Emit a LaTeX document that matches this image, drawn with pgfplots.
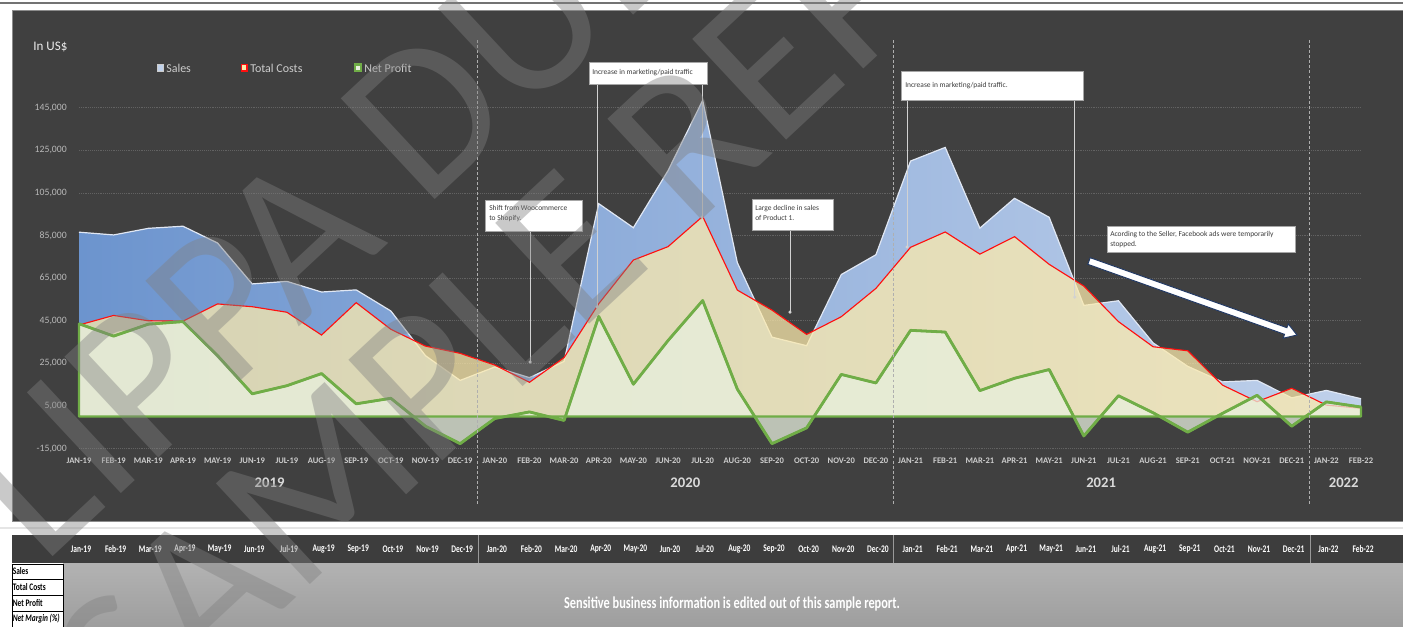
\documentclass[border=0pt]{standalone}
\usepackage{pgfplots}
\usepackage{pgfplotstable}
\pgfplotsset{compat=1.18}
\usepackage{fontspec}
\setmainfont{Carlito}
\newfontfamily\condfont[FakeStretch=0.74]{Carlito}
\newfontfamily\wmfont{Carlito}

\definecolor{panel}{RGB}{64,64,64}
\definecolor{salesL}{RGB}{108,148,206}
\definecolor{salesR}{RGB}{192,209,235}
\definecolor{salesLine}{RGB}{224,231,243}
\definecolor{costFill}{RGB}{252,234,172}
\definecolor{costLine}{RGB}{255,16,16}
\definecolor{profitFill}{RGB}{232,240,222}
\definecolor{profitLine}{RGB}{112,173,71}
\definecolor{ticktext}{RGB}{185,185,185}
\definecolor{labtext}{RGB}{205,205,205}
\definecolor{gridc}{RGB}{98,98,98}
\definecolor{sepc}{RGB}{175,175,175}
\definecolor{notetext}{RGB}{60,60,60}
\definecolor{arrowblue}{RGB}{32,56,100}
\definecolor{leader}{RGB}{210,210,210}

% monthly figures, Jan-19 .. Feb-22 (index 0..37)
\pgfplotstableread{
idx sales  costs profit
0   86600  43000  43600
1   85300  47500  37800
2   88400  45000  43400
3   89400  44800  44600
4   81500  52900  28600
5   62300  51600  10700
6   63500  49000  14500
7   58500  38300  20200
8   59500  53500   6000
9   49600  41000   8600
10  28600  33100  -4500
11  17000  29700 -12700
12  23300  24200   -900
13  18300  16100   2200
14  25900  27700  -1800
15 100000  53000  47000
16  88700  73500  15200
17 115500  79800  35700
18 148500  94000  54500
19  72300  59400  12900
20  37300  50000 -12700
21  33300  38600  -5300
22  66700  46900  19800
23  76000  60200  15800
24 120000  79500  40500
25 126400  86700  39700
26  88500  76300  12200
27 102500  84500  18000
28  93600  71500  22100
29  52200  61300  -9100
30  54400  44600   9800
31  34600  32800   1800
32  23600  30900  -7300
33  16300  14800   1500
34  17000   7000  10000
35   8800  13300  -4500
36  12300   5400   6900
37   8400   3900   4500
}\datatable

\tikzset{px/.style={x=0.75pt,y=-0.75pt}}

\begin{document}
\begin{tikzpicture}

% page background, panel and data table
\begin{scope}[px]
  \fill[white] (0,0) rectangle (1403,626);
  \draw[line width=1.8pt, black!55] (0,3) -- (1403,3);
  \fill[panel] (12,10) rectangle (1403,521);
  \draw[black!45, line width=0.6pt] (12,10) -- (12,521) -- (1403,521);
  \draw[black!45, line width=0.6pt] (12,10) -- (1403,10);
  \draw[black!10, line width=0.8pt] (0,528) -- (1403,528);

  % table header
  \fill[black!76] (12,535) rectangle (1403,563);
  \shade[top color=black!30, bottom color=black!38] (63,563) rectangle (1403,626);
  \foreach \sx in {478,893,1310} \draw[black!40, line width=0.5pt] (\sx,535) -- (\sx,563);
  \foreach \lab [count=\i from 0] in {Jan-19,Feb-19,Mar-19,Apr-19,May-19,Jun-19,Jul-19,Aug-19,Sep-19,Oct-19,Nov-19,Dec-19,Jan-20,Feb-20,Mar-20,Apr-20,May-20,Jun-20,Jul-20,Aug-20,Sep-20,Oct-20,Nov-20,Dec-20,Jan-21,Feb-21,Mar-21,Apr-21,May-21,Jun-21,Jul-21,Aug-21,Sep-21,Oct-21,Nov-21,Dec-21,Jan-22,Feb-22}
    \node[text=white, font=\condfont\bfseries\fontsize{7.6}{8}\selectfont, inner sep=0pt] at ({81+\i*34.65},549) {\lab};
  \foreach \ya/\yb/\lab in {564/579/Sales,579/595/Total Costs,595/611/Net Profit}{
    \draw[fill=white, draw=black, line width=0.4pt] (12,\ya) rectangle (63,\yb);
    \node[anchor=west, inner sep=0pt, font=\condfont\bfseries\fontsize{7.5}{8}\selectfont] at (12.5,{(\ya+\yb)/2}) {\lab};
  }
  \draw[fill=white, draw=black, line width=0.4pt] (12,611) rectangle (63,627);
  \node[anchor=west, inner sep=0pt, font=\condfont\bfseries\itshape\fontsize{7.5}{8}\selectfont] at (12.5,619) {Net Margin (\%)};
  \node[text=white, font=\condfont\bfseries\fontsize{12.5}{14}\selectfont, inner sep=0pt] at (732,604) {Sensitive business information is edited out of this sample report.};

  % title and legend
  \node[anchor=west, inner sep=0pt, text=white!92!black, font=\fontsize{9.8}{11}\selectfont] at (33,47) {In US\$};
  \draw[fill=salesR, draw=white!80!black, line width=0.3pt] (157,64.5) rectangle (163.5,71);
  \node[anchor=west, inner sep=0pt, text=labtext, font=\fontsize{9}{10}\selectfont] at (166,68) {Sales};
  \draw[fill=costFill, draw=costLine, line width=0.8pt] (241.5,64.5) rectangle (247,71);
  \node[anchor=west, inner sep=0pt, text=labtext, font=\fontsize{9}{10}\selectfont] at (250,68) {Total Costs};
  \draw[fill=profitFill, draw=profitLine, line width=1.6pt] (355,64.5) rectangle (361,71);
  \node[anchor=west, inner sep=0pt, text=labtext, font=\fontsize{9}{10}\selectfont] at (364,68) {Net Profit};
\end{scope}

\begin{axis}[
  at={(59.25pt,-336.4pt)}, anchor=south west,
  scale only axis, width=961.5pt, height=287.5pt,
  xmin=0, xmax=37, ymin=-15000, ymax=165000,
  clip=false,
  scaled y ticks=false,
  axis line style={draw=none},
  tick style={draw=none},
  ymajorgrids,
  grid style={gridc, densely dotted, line width=0.5pt},
  ytick={-15000,5000,25000,45000,65000,85000,105000,125000,145000},
  yticklabels={{-15,000},{5,000},{25,000},{45,000},{65,000},{85,000},{105,000},{125,000},{145,000}},
  yticklabel style={anchor=east, inner sep=0pt, xshift=-9pt, text=ticktext, font=\fontsize{7.3}{8}\selectfont},
  xtick={0,...,37},
  xticklabels={JAN-19,FEB-19,MAR-19,APR-19,MAY-19,JUN-19,JUL-19,AUG-19,SEP-19,OCT-19,NOV-19,DEC-19,JAN-20,FEB-20,MAR-20,APR-20,MAY-20,JUN-20,JUL-20,AUG-20,SEP-20,OCT-20,NOV-20,DEC-20,JAN-21,FEB-21,MAR-21,APR-21,MAY-21,JUN-21,JUL-21,AUG-21,SEP-21,OCT-21,NOV-21,DEC-21,JAN-22,FEB-22},
  xticklabel style={anchor=center, inner sep=0pt, yshift=-9.4pt, text=labtext, font=\bfseries\fontsize{6.4}{7}\selectfont},
]
  % Sales area (shaded left to right)
  \addplot[draw=none, left color=salesL, right color=salesR] table[x=idx, y=sales] {\datatable} \closedcycle;
  \addplot[salesLine, line width=0.9pt] table[x=idx, y=sales] {\datatable};
  % Total costs area
  \addplot[draw=none, fill=costFill, fill opacity=0.74] table[x=idx, y=costs] {\datatable} \closedcycle;
  \addplot[costLine, line width=0.85pt] table[x=idx, y=costs] {\datatable};
  % Net profit area, outlined all round
  \addplot[fill=profitFill, fill opacity=0.74, draw=profitLine, line width=1.7pt, line join=round] table[x=idx, y=profit] {\datatable} \closedcycle;
  \addplot[profitLine, line width=2.1pt, line join=round] table[x=idx, y=profit] {\datatable};

  % year separators and year labels
  \draw[sepc, line width=0.6pt, dash pattern=on 2.2pt off 1.6pt] (axis cs:11.5,176800) -- (axis cs:11.5,-41500);
  \draw[sepc, line width=0.6pt, dash pattern=on 2.2pt off 1.6pt] (axis cs:23.5,176800) -- (axis cs:23.5,-41500);
  \draw[sepc, line width=0.6pt, dash pattern=on 2.2pt off 1.6pt] (axis cs:35.5,176800) -- (axis cs:35.5,-41500);
  \node[text=white!85!black, font=\bfseries\fontsize{11}{12}\selectfont] at (axis cs:5.5,-31200) {2019};
  \node[text=white!85!black, font=\bfseries\fontsize{11}{12}\selectfont] at (axis cs:17.5,-31200) {2020};
  \node[text=white!85!black, font=\bfseries\fontsize{11}{12}\selectfont] at (axis cs:29.5,-31200) {2021};
  \node[text=white!85!black, font=\bfseries\fontsize{11}{12}\selectfont] at (axis cs:36.5,-31200) {2022};

  % callout leader lines
  \draw[leader, line width=0.6pt] (axis cs:13.02,87100) -- (axis cs:13.02,25600);
  \fill[leader] (axis cs:13.02,25600) circle (1.3pt);
  \draw[leader, line width=0.6pt] (axis cs:14.95,156600) -- (axis cs:14.95,51500);
  \fill[leader] (axis cs:14.95,51500) circle (1.3pt);
  \draw[leader, line width=0.6pt] (axis cs:17.98,156600) -- (axis cs:17.98,93700);
  \fill[leader] (axis cs:17.98,93700) circle (1.3pt);
  \draw[leader, line width=0.6pt] (axis cs:20.52,87600) -- (axis cs:20.52,49100);
  \fill[leader] (axis cs:20.52,49100) circle (1.3pt);
  \draw[leader, line width=0.6pt] (axis cs:23.9,148600) -- (axis cs:23.9,79600);
  \fill[leader] (axis cs:23.9,79600) circle (1.3pt);
  \draw[leader, line width=0.6pt] (axis cs:28.74,148600) -- (axis cs:28.74,56100);
  \fill[leader] (axis cs:28.74,56100) circle (1.3pt);
\end{axis}

% callout boxes and trend arrow
\begin{scope}[px]
  \tikzset{note/.style={anchor=north west, inner sep=0pt, align=left, text=notetext, font=\fontsize{5.6}{7.4}\selectfont}}
  \draw[fill=white, draw=black!35, line width=0.4pt] (485,200) rectangle (582,231);
  \node[note] at (489,205) {Shift from Woocommerce\\to Shopify.};
  \draw[fill=white, draw=black!35, line width=0.4pt] (589,62) rectangle (707,84);
  \node[note] at (592,69) {Increase in marketing/paid traffic};
  \draw[fill=white, draw=black!35, line width=0.4pt] (752,199) rectangle (833,230);
  \node[note] at (755,205) {Large decline in sales\\of Product 1.};
  \draw[fill=white, draw=black!35, line width=0.4pt] (901,71) rectangle (1083,100);
  \node[note] at (905,82) {Increase in marketing/paid traffic.};
  \draw[fill=white, draw=black!35, line width=0.4pt] (1107,226) rectangle (1295,252);
  \node[note] at (1110,231) {Acording to the Seller, Facebook ads were temporarily\\stopped.};

  \draw[fill=white, draw=arrowblue, line width=0.7pt, line join=miter]
    (1087.8,264.3) -- (1284.5,334.3) -- (1283.2,338.2) -- (1297,335) -- (1288.2,323.9) -- (1286.9,327.7) -- (1090.2,257.7) -- cycle;
\end{scope}

% watermark, clipped to the page
\begin{scope}
  \clip (0,0) rectangle (1052.25pt,-469.5pt);
  \begin{scope}[px]
  \node[rotate=43, anchor=base west, inner sep=0pt, text=black!50, text opacity=0.42,
        font=\wmfont\fontsize{161}{161}\selectfont] at (-30,634) {FLIPPA DUE DILIGENCE};
  \node[rotate=43, anchor=base west, inner sep=0pt, text=black!50, text opacity=0.42,
        font=\wmfont\fontsize{161}{161}\selectfont] at (135,748) {SAMPLE REPORT};
  \end{scope}
\end{scope}

\pgfresetboundingbox
\path[use as bounding box] (0,0) rectangle (1052.25pt,-469.5pt);
\end{tikzpicture}
\end{document}
